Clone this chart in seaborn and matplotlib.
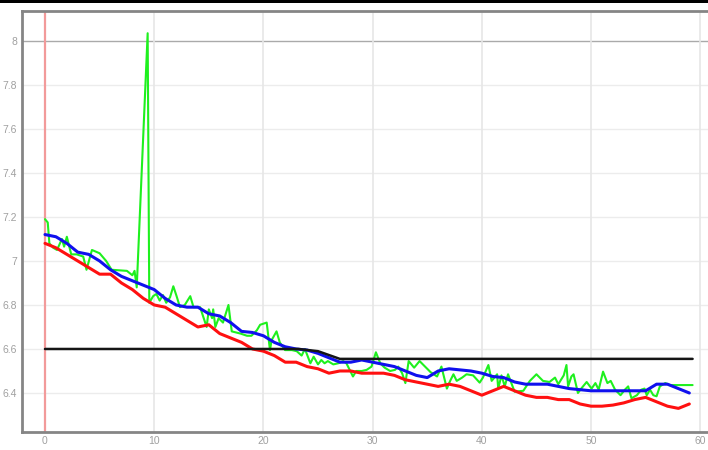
import numpy as np
import pandas as pd
import matplotlib
matplotlib.use("Agg")
import matplotlib.pyplot as plt
from matplotlib.patches import Rectangle
import seaborn as sns

# === Data ===
red_x = list(range(60))
red_y = [7.08, 7.06, 7.03, 7.00, 6.97, 6.94, 6.94, 6.90, 6.87, 6.83,
         6.80, 6.79, 6.76, 6.73, 6.70, 6.71, 6.67, 6.65, 6.63, 6.60,
         6.59, 6.57, 6.54, 6.54, 6.52, 6.51, 6.49, 6.50, 6.50, 6.49,
         6.49, 6.49, 6.48, 6.46, 6.45, 6.44, 6.43, 6.44, 6.43, 6.41,
         6.39, 6.41, 6.43, 6.41, 6.39, 6.38, 6.38, 6.37, 6.37, 6.35,
         6.34, 6.34, 6.345, 6.355, 6.37, 6.38, 6.36, 6.34, 6.33, 6.35]

blue_x = list(range(60))
blue_y = [7.12, 7.11, 7.08, 7.04, 7.03, 7.00, 6.96, 6.93, 6.91, 6.89,
          6.87, 6.83, 6.80, 6.79, 6.79, 6.76, 6.75, 6.72, 6.68, 6.675,
          6.66, 6.63, 6.61, 6.60, 6.595, 6.58, 6.56, 6.54, 6.54, 6.55,
          6.54, 6.53, 6.52, 6.50, 6.48, 6.47, 6.50, 6.51, 6.505, 6.50,
          6.49, 6.475, 6.47, 6.45, 6.44, 6.44, 6.44, 6.43, 6.42, 6.415,
          6.41, 6.41, 6.41, 6.41, 6.41, 6.41, 6.44, 6.44, 6.42, 6.40]

green_x = [0.0, 0.25, 0.4, 0.75, 1.1, 1.55, 1.75, 2.0, 2.4, 2.9,
           3.5, 3.8, 4.3, 5.0, 5.6, 6.1, 7.5, 8.0, 8.2, 8.4,
           9.4, 9.55, 9.9, 10.2, 10.5, 10.8, 11.1, 11.45, 11.75, 12.05,
           12.36, 12.8, 13.3, 13.6, 14.2, 14.8, 15.0, 15.3, 15.4, 15.6,
           15.9, 16.3, 16.8, 17.1, 17.9, 18.5, 18.9, 19.4, 19.7, 20.3,
           20.6, 20.75, 21.2, 21.5, 21.98, 22.6, 23.05, 23.5, 23.8, 24.3,
           24.6, 25.0, 25.3, 25.6, 25.9, 26.4, 26.85, 27.3, 27.6, 27.9,
           28.2, 28.5, 29.0, 29.45, 29.9, 30.3, 30.7, 31.1, 31.6, 32.05,
           32.35, 32.7, 33.0, 33.3, 33.8, 34.3, 34.8, 35.3, 35.9, 36.3,
           36.8, 37.1, 37.4, 37.7, 38.2, 38.6, 39.2, 39.8, 40.1, 40.6,
           40.9, 41.4, 41.5, 41.8, 42.1, 42.4, 43.0, 43.8, 44.4, 45.0,
           45.6, 46.2, 46.7, 47.0, 47.5, 47.75, 47.9, 48.2, 48.4, 48.8,
           49.1, 49.6, 50.05, 50.4, 50.7, 51.1, 51.5, 51.8, 52.2, 52.7,
           53.1, 53.4, 53.7, 54.2, 54.6, 54.9, 55.1, 55.4, 55.7, 56.0,
           56.3, 56.8, 57.2, 59.3]
green_y = [7.19, 7.175, 7.08, 7.06, 7.05, 7.10, 7.065, 7.11, 7.03, 7.03,
           7.02, 6.96, 7.05, 7.035, 7.00, 6.96, 6.955, 6.935, 6.955, 6.88,
           8.035, 6.81, 6.84, 6.85, 6.82, 6.845, 6.81, 6.835, 6.885, 6.84,
           6.79, 6.80, 6.84, 6.79, 6.79, 6.70, 6.78, 6.74, 6.78, 6.70,
           6.74, 6.72, 6.80, 6.68, 6.67, 6.66, 6.66, 6.685, 6.71, 6.72,
           6.595, 6.64, 6.68, 6.63, 6.595, 6.595, 6.59, 6.57, 6.60, 6.535,
           6.565, 6.53, 6.55, 6.535, 6.545, 6.53, 6.535, 6.545, 6.535, 6.505,
           6.475, 6.50, 6.50, 6.505, 6.52, 6.585, 6.535, 6.515, 6.50, 6.505,
           6.52, 6.49, 6.445, 6.545, 6.515, 6.545, 6.52, 6.495, 6.475, 6.52,
           6.42, 6.455, 6.485, 6.455, 6.47, 6.485, 6.48, 6.447, 6.47, 6.527,
           6.455, 6.485, 6.42, 6.48, 6.43, 6.485, 6.406, 6.41, 6.455, 6.485,
           6.455, 6.45, 6.47, 6.44, 6.48, 6.527, 6.43, 6.475, 6.485, 6.40,
           6.42, 6.45, 6.42, 6.445, 6.415, 6.497, 6.445, 6.455, 6.415, 6.39,
           6.415, 6.43, 6.376, 6.39, 6.415, 6.42, 6.39, 6.415, 6.39, 6.385,
           6.43, 6.445, 6.436, 6.436]

black_x = [0, 23.2, 25.0, 27.0, 59.3]
black_y = [6.6, 6.6, 6.59, 6.555, 6.555]

y_ticks = [6.4, 6.6, 6.8, 7.0, 7.2, 7.4, 7.6, 7.8, 8.0]
x_ticks = [0, 10, 20, 30, 40, 50, 60]

# === Figure ===
sns.set_theme(style="white")
plt.rcParams['font.family'] = ['Liberation Sans', 'DejaVu Sans']

fig = plt.figure(figsize=(7.08, 4.5), dpi=100)
ax = fig.add_axes([22 / 708, 18 / 450, 1 - 22 / 708, (432 - 11) / 450])

# grid
for v in y_ticks:
    ax.axhline(v, color='#aaaaaa' if v == 8.0 else '#ececec', lw=1.0, zorder=0)
for v in x_ticks:
    ax.axvline(v, color='#e6e6e6', lw=1.2, zorder=0)
ax.axvline(0, color='#f29a9a', lw=1.6, zorder=1)

sns.lineplot(x=green_x, y=green_y, ax=ax, color='#1ef01e', lw=1.5,
             sort=False, estimator=None, zorder=2)
sns.lineplot(x=red_x, y=red_y, ax=ax, color='#ff1010', lw=2.2,
             sort=False, estimator=None, zorder=3)
sns.lineplot(x=blue_x, y=blue_y, ax=ax, color='#1010ee', lw=2.2,
             sort=False, estimator=None, zorder=4)
sns.lineplot(x=black_x, y=black_y, ax=ax, color='#151515', lw=1.8,
             sort=False, estimator=None, zorder=5)

ax.set_xlim(-2.106, 60.71)
ax.set_ylim(6.2227, 8.136)
ax.set_xticks(x_ticks)
ax.set_yticks(y_ticks)
ax.set_yticklabels([f"{v:g}" for v in y_ticks])
ax.tick_params(axis='both', length=0, labelsize=7.5, labelcolor='#a0a0a0')
ax.tick_params(axis='y', pad=3.5)
ax.tick_params(axis='x', pad=3)

for side in ['left', 'bottom', 'top']:
    ax.spines[side].set_color('#858585')
    ax.spines[side].set_linewidth(2.0)
ax.spines['right'].set_visible(False)

# black strip along the top edge
fig.add_artist(Rectangle((0, 1 - 2.5 / 450), 1, 2.5 / 450,
                         transform=fig.transFigure, color='black', lw=0))

fig.savefig("out.png", dpi=100)
